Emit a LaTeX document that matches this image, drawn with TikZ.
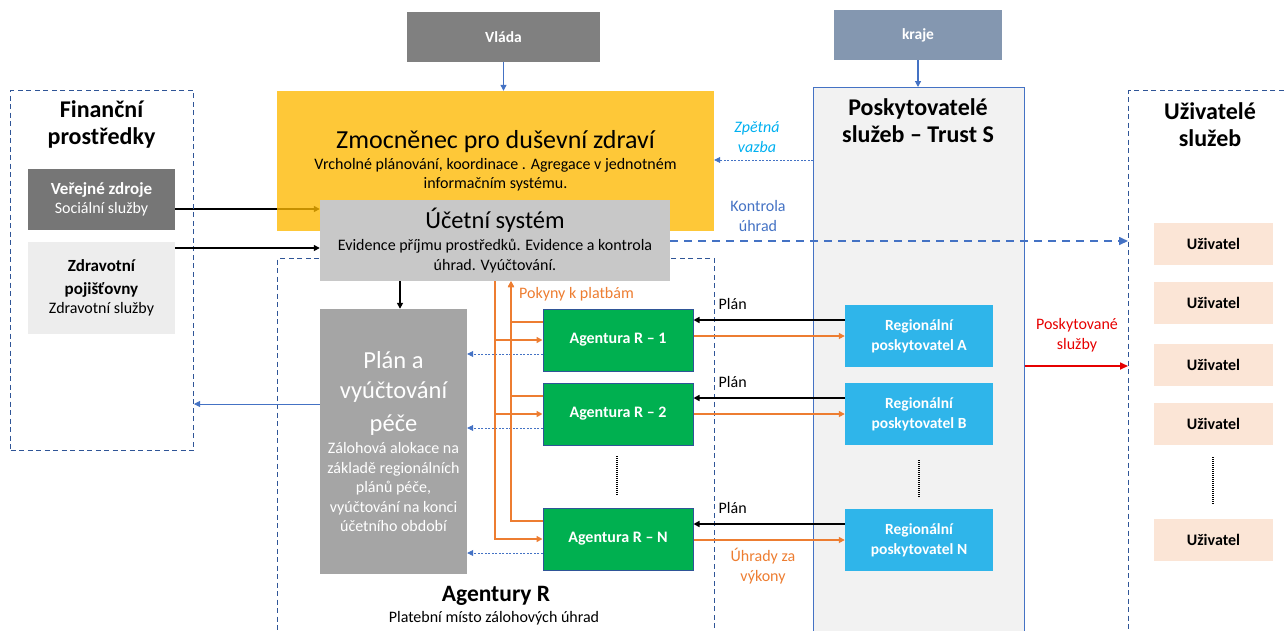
\documentclass[tikz,border=0pt]{standalone}
\usepackage{fontspec}
\setmainfont{Carlito}
\usetikzlibrary{arrows.meta,calc}
\pgfdeclarelayer{background}
\pgfsetlayers{background,main}

\definecolor{cVlada}{RGB}{128,128,128}
\definecolor{cKraje}{RGB}{132,151,176}
\definecolor{cYellow}{RGB}{254,185,0}
\definecolor{cUcet}{RGB}{200,200,200}
\definecolor{cVerej}{RGB}{118,118,118}
\definecolor{cZdrav}{RGB}{237,237,237}
\definecolor{cPlan}{RGB}{165,165,165}
\definecolor{cGreen}{RGB}{0,176,80}
\definecolor{cNavy}{RGB}{47,85,151}
\definecolor{cReg}{RGB}{47,181,234}
\definecolor{cTrust}{RGB}{242,242,242}
\definecolor{cBlue}{RGB}{68,114,196}
\definecolor{cPeach}{RGB}{251,229,214}
\definecolor{cOrange}{RGB}{237,125,49}
\definecolor{cSky}{RGB}{0,176,240}
\definecolor{cRed}{RGB}{230,0,0}

\newcommand{\fs}[2]{\fontsize{#1}{#2}\selectfont}
\newcommand{\bigfnt}{\fs{24.5}{27}}
\newcommand{\smfnt}{\fs{16}{19.5}}

\tikzset{
  box/.style={inner sep=0pt, align=center},
  dashbox/.style={draw=cNavy, line width=1pt, dash pattern=on 5pt off 3.5pt, inner sep=0pt},
  agbox/.style={box, fill=cGreen, draw=cNavy, line width=1pt, minimum width=150, minimum height=62,
                text=white, font=\fs{16}{19}\bfseries},
  regbox/.style={box, fill=cReg, minimum width=148, minimum height=62,
                 text=white, font=\fs{15.5}{20}\bfseries},
  userbox/.style={box, fill=cPeach, minimum width=119, minimum height=42, font=\fs{16}{19}\bfseries},
  topbox/.style={box, minimum height=50, text=white, font=\fs{15.5}{18}\bfseries},
  tip/.style={-{Triangle[length=6pt,width=6pt]}},
  blk/.style={tip, line width=1.6pt, black},
  oarr/.style={tip, line width=1.6pt, cOrange},
  fb/.style={-{Triangle[length=6pt,width=6pt]}, cBlue, line width=0.7pt, dash pattern=on 2pt off 1.5pt},
  dots/.style={line width=1.4pt, dash pattern=on 1pt off 1pt, black},
  small/.style={font=\smfnt, align=center, inner sep=0pt},
  head/.style={font=\fs{24}{27}\bfseries, align=center, inner sep=0pt},
}

\begin{document}
\begin{tikzpicture}[x=1pt,y=-1pt]
\useasboundingbox (0,0) rectangle (1284,630);

% ---- top sources
\node[topbox, fill=cVlada, minimum width=193] (vlada) at (503.5,37) {Vláda};
\node[topbox, fill=cKraje, minimum width=168] (kraje) at (918,35) {kraje};

% ---- dashed frames
\node[dashbox, minimum width=183, minimum height=360, anchor=north west] (fin) at (10,90) {};
\node[head] (finT) at (101.5,124) {Finanční\\prostředky};
\node[dashbox, minimum width=437, minimum height=400, anchor=north west] (agR) at (277,258) {};
\node[dashbox, minimum width=180, minimum height=560, anchor=north west] (uziv) at (1128,90) {};
\node[head] (uzivT) at (1210,125) {Uživatelé\\služeb};

% ---- trust
\node[box, fill=cTrust, draw=cBlue, line width=1.3pt, minimum width=211, minimum height=560, anchor=north west] (trust) at (813,87) {};
\node[head] (trustT) at (918,121) {Poskytovatelé\\služeb – Trust S};

% ---- funding sources
\node[box, fill=cVerej, minimum width=147, minimum height=61, text=white, font=\smfnt] (verej) at (101.5,199.5)
  {\fs{17}{19.5}\bfseries Veřejné zdroje\\Sociální služby};
\node[box, fill=cZdrav, minimum width=147, minimum height=92, font=\smfnt] (zdrav) at (101.5,288)
  {\fs{17}{19.5}\bfseries Zdravotní\\[3pt]\fs{17}{19.5}\bfseries pojišťovny\\Zdravotní služby};

% ---- commissioner and accounting
\node[box, fill=cYellow, fill opacity=0.78, text opacity=1, minimum width=437, minimum height=140, font=\smfnt] (zmoc) at (495.5,161)
  {\fs{26}{28}Zmocněnec pro duševní zdraví\\[1pt]Vrcholné plánování, koordinace . Agregace v jednotném\\informačním systému.};
\node[box, fill=cUcet, minimum width=350, minimum height=81, font=\smfnt] (ucet) at (495,240.5)
  {\bigfnt Účetní systém\\[3pt]Evidence příjmu prostředků. Evidence a kontrola\\úhrad. Vyúčtování.};

% ---- plan & billing
\node[box, fill=cPlan, minimum width=147, minimum height=265, text=white, font=\smfnt] (plan) at (393.5,441.5)
  {\bigfnt Plán a\\[11pt]\bigfnt vyúčtování\\[11pt]\bigfnt péče\\[3pt]Zálohová alokace na\\základě regionálních\\plánů péče,\\vyúčtování na konci\\účetního období};

% ---- agencies
\node[agbox] (ag1) at (618,340) {Agentura R – 1};
\node[agbox] (ag2) at (618,414) {Agentura R – 2};
\node[agbox] (agN) at (618,539) {Agentura R – N};
\coordinate (agd1) at (617,456);
\coordinate (agd2) at (617,495);
\draw[dots] (agd1) -- (agd2);
\node[head, font=\fs{23.5}{27}\bfseries] (agRT) at (496,596) {Agentury R};
\node[small] (agRS) at (494,618) {Platební místo zálohových úhrad};

% ---- regional providers
\node[regbox] (regA) at (919,336) {Regionální\\poskytovatel A};
\node[regbox] (regB) at (919,414) {Regionální\\poskytovatel B};
\node[regbox] (regN) at (919,540) {Regionální\\poskytovatel N};
\coordinate (regd1) at (919,460);
\coordinate (regd2) at (919,497);
\draw[dots] (regd1) -- (regd2);

% ---- users
\node[userbox] (u1) at (1213.5,244) {Uživatel};
\node[userbox] (u2) at (1213.5,303) {Uživatel};
\node[userbox] (u3) at (1213.5,365) {Uživatel};
\node[userbox] (u4) at (1213.5,424) {Uživatel};
\node[userbox] (u5) at (1213.5,540) {Uživatel};
\coordinate (ud1) at (1213,457);
\coordinate (ud2) at (1213,505);
\draw[dots] (ud1) -- (ud2);

% ---- connectors from the top
\draw[tip, cBlue, line width=1.2pt] (vlada.south) -- (vlada.south |- zmoc.north);
\draw[tip, cBlue, line width=1.2pt] (kraje.south) -- (kraje.south |- trust.north);

% ---- funding flows
\begin{pgfonlayer}{background}
\draw[blk] (verej.east |- 0,209) -- (ucet.west |- 0,209);
\end{pgfonlayer}
\draw[blk] (zdrav.east |- 0,248) -- (ucet.west |- 0,248);
\draw[blk] (ucet.south -| 400,0) -- (plan.north -| 400,0);
\draw[tip, cBlue, line width=0.8pt] (plan.west |- 0,404) -- (fin.east |- 0,404);

% ---- feedback and control
\draw[fb] (trust.west |- 0,160) -- (zmoc.east |- 0,160);
\node[small, font=\smfnt\itshape, text=cSky] (zpet) at (757,137) {Zpětná\\vazba};
\node[small, text=cBlue] (kontr) at (758,216) {Kontrola\\úhrad};
\draw[-{Triangle[length=9pt,width=8pt]}, cBlue, line width=1.6pt, dash pattern=on 8pt off 6pt]
  (ucet.east |- 0,241) -- (uziv.west |- 0,241);

% ---- services delivered
\draw[-{Triangle[length=8pt,width=7pt]}, cRed, line width=1.6pt] (trust.east |- 0,366) -- (uziv.west |- 0,366);
\node[small, text=cRed] (posk) at (1077,335) {Poskytované\\služby};

% ---- payment allocations and instructions
\coordinate (busA) at (495,0);
\coordinate (busB) at (511,0);
\foreach \a in {ag1,ag2,agN}{
  \draw[oarr] (ucet.south -| busA) |- (\a.west);
  \draw[oarr] ($(\a.north west)!0.21!(\a.south west)$) -| (ucet.south -| busB);
  \draw[fb] ([yshift=-14pt]\a.west) -- ([yshift=-14pt]\a.west -| plan.east);
}
\node[small, text=cOrange, anchor=west] (pokyny) at (519,294) {Pokyny k platbám};

% ---- plans and payments for services
\foreach \a/\r in {ag1/regA,ag2/regB,agN/regN}{
  \draw[blk] ([yshift=16pt]\r.west) -- ([yshift=16pt]\r.west -| \a.east);
  \draw[oarr] (\a.east |- \r.west) -- (\r.west);
  \node[small, anchor=west] at ([xshift=25pt,yshift=32pt]\a.east |- \r.west) {Plán};
}
\node[small, text=cOrange] (uhr) at (763,566) {Úhrady za\\výkony};
\end{tikzpicture}
\end{document}
